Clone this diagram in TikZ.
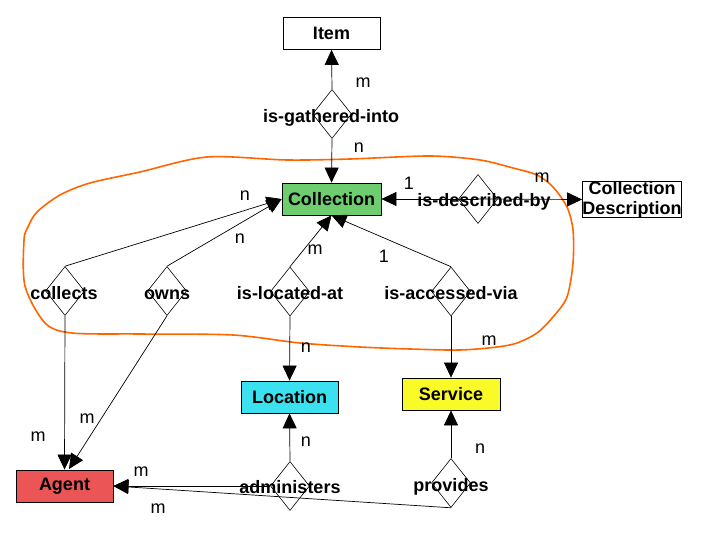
\documentclass[tikz,border=0pt]{standalone}
\usepackage{fontspec}
\setmainfont{Liberation Sans}
\usetikzlibrary{shapes.geometric,arrows.meta}
\definecolor{collgreen}{RGB}{110,205,110}
\definecolor{agentred}{RGB}{235,85,85}
\definecolor{loccyan}{RGB}{60,225,240}
\definecolor{servyellow}{RGB}{250,250,40}
\definecolor{curveorange}{RGB}{255,102,0}
\tikzset{
  ent/.style={draw, line width=0.8pt, minimum width=97pt, minimum height=32pt, inner sep=0pt,
    font=\fontsize{18}{19}\selectfont\bfseries},
  rel/.style={draw, line width=0.6pt, shape=diamond, minimum width=39pt, minimum height=49pt, inner sep=0pt},
  rellabel/.style={inner sep=0pt, anchor=base, font=\fontsize{18}{19}\selectfont\bfseries},
  card/.style={inner sep=0pt, font=\fontsize{18}{19}\selectfont},
  conn/.style={line width=0.7pt, -{Triangle[length=15pt,width=14pt]}},
}
\begin{document}
\begin{tikzpicture}[x=1pt,y=-1pt]
\useasboundingbox (0,0) rectangle (720,540);

% entities
\node[ent] (item) at (331.5,33.5) {Item};
\node[ent, fill=collgreen, minimum width=99pt] (coll) at (331.5,199) {Collection};
\node[ent, minimum width=98pt, minimum height=33pt, align=center] (cdesc) at (632,199.5) {Collection\\[1pt]Description};
\node[ent, fill=loccyan] (loc) at (289.5,397) {Location};
\node[ent, fill=servyellow, minimum width=98pt] (serv) at (451,394) {Service};
\node[ent, fill=agentred] (agent) at (64.5,486) {Agent};

% relationship diamonds
\node[rel] (dgath) at (332,114) {};
\node[rel] (ddesc) at (478,199) {};
\node[rel] (dcoll) at (65,291) {};
\node[rel] (downs) at (167,291) {};
\node[rel] (dloc) at (290,291.5) {};
\node[rel] (dacc) at (451,291.5) {};
\node[rel] (dadm) at (290,486) {};
\node[rel] (dprov) at (451,483) {};

% relationship labels
\node[rellabel] (lgath) at (331,122.5) {is-gathered-into};
\node[rellabel] (ldesc) at (484,206.5) {is-described-by};
\node[rellabel] (lcoll) at (64,299.5) {collects};
\node[rellabel] (lowns) at (167,299.5) {owns};
\node[rellabel] (lloc) at (290,299.5) {is-located-at};
\node[rellabel] (lacc) at (451,299.5) {is-accessed-via};
\node[rellabel] (ladm) at (290,493.5) {administers};
\node[rellabel] (lprov) at (451,491.5) {provides};

% orange boundary
\draw[curveorange, line width=1.6pt] plot[smooth cycle, tension=0.5] coordinates {
 (207,157) (287,160) (350,159) (430,156) (480,160) (513,168) (537,175) (553,187)
 (567,207) (573,230) (573,263) (567,297) (553,317) (537,333) (517,343) (497,347)
 (460,350) (410,349) (360,347) (300,343) (233,335) (140,334) (72,333) (45,323)
 (25,286) (24,240) (28,227) (37,212) (60,195) (90,183) (140,172)};

% connectors
\coordinate (agentTop2) at (69,469);
\draw[conn] (dgath.north) -- (item.south);
\draw[conn] (dgath.south) -- (coll.north);
\draw[conn] (ddesc.center) -- (coll.east);
\draw[conn] (ddesc.center) -- (cdesc.west);
\draw[conn] (dcoll.north) -- (coll.west);
\draw[conn] (downs.north) -- (coll.west);
\draw[conn] (dloc.north) -- (coll.south);
\draw[conn] (dacc.north) -- (coll.south);
\draw[conn] (dcoll.south) -- (agent.north);
\draw[conn] (downs.south) -- (agentTop2);
\draw[conn] (dloc.south) -- (loc.north);
\draw[conn] (dacc.south) -- (serv.north);
\draw[conn] (dadm.north) -- (loc.south);
\draw[conn] (dprov.north) -- (serv.south);
\draw[conn] (dadm.west) -- (agent.east);
\draw[conn] (dprov.south) -- (agent.east);

% cardinalities
\node[card] (c1) at (363,83) {m};
\node[card] (c2) at (359,148) {n};
\node[card] (c3) at (409,183) {1};
\node[card] (c4) at (542,178) {m};
\node[card] (c5) at (245,196) {n};
\node[card] (c6) at (240,239) {n};
\node[card] (c7) at (315,250) {m};
\node[card] (c8) at (384,256) {1};
\node[card] (c9) at (306,348) {n};
\node[card] (c10) at (489,341) {m};
\node[card] (c11) at (38,437) {m};
\node[card] (c12) at (87,419) {m};
\node[card] (c13) at (306,442) {n};
\node[card] (c14) at (480,449) {n};
\node[card] (c15) at (141,472) {m};
\node[card] (c16) at (158,509) {m};
\end{tikzpicture}
\end{document}
